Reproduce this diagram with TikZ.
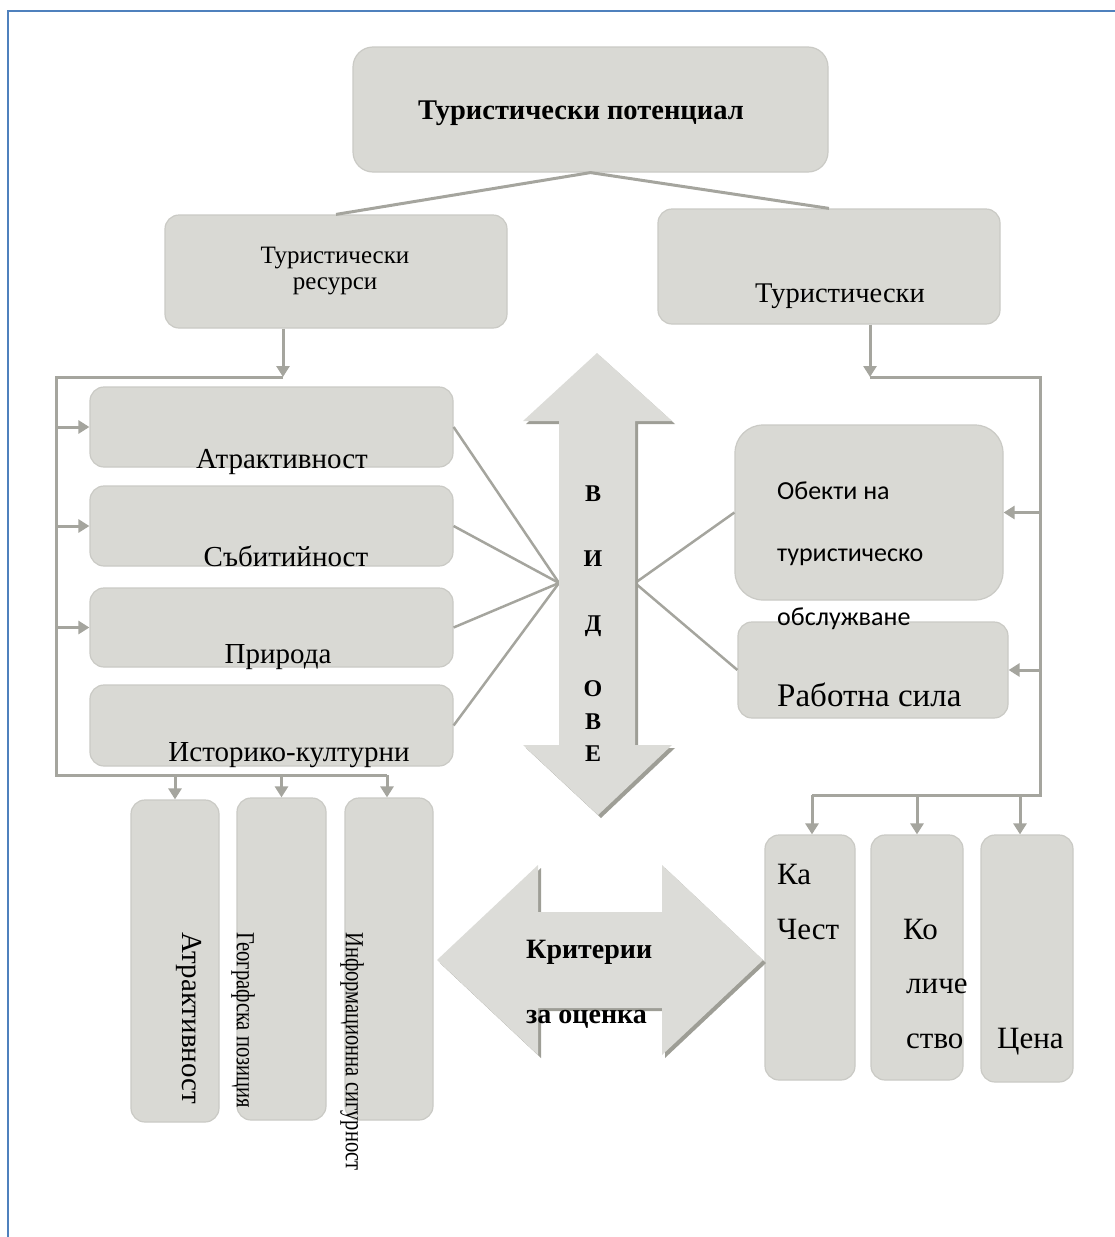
\documentclass[tikz,border=0pt]{standalone}
\usepackage{fontspec}
\usepackage{graphicx}
\setmainfont{Liberation Serif}
\newfontfamily\sansf{Carlito}
\usetikzlibrary{arrows.meta,calc}
\definecolor{boxfill}{HTML}{D9D9D4}
\definecolor{boxline}{HTML}{CACAC5}
\definecolor{conncol}{HTML}{A5A59E}
\definecolor{shadowcol}{HTML}{9E9E96}
\definecolor{arrowfill}{HTML}{DCDCD8}
\definecolor{framecol}{HTML}{4F81BD}
\newcommand\fs[1]{\fontsize{#1}{#1}\selectfont}
\begin{document}
\begin{tikzpicture}[x=1pt,y=-1pt,
  box/.style={draw=boxline, fill=boxfill, line width=1.2, rounded corners=14, inner sep=0},
  conn/.style={draw=conncol, line width=3},
  thinconn/.style={draw=conncol, line width=2.5},
  arr/.style={conn, -{Triangle[length=11,width=13]}},
  txt/.style={inner sep=0, text=black},
  vpath/.style={insert path={(597,353) -- (672,421) -- (635,421) -- (635,745) -- (672,745) -- (598,815) -- (523,745) -- (559,745) -- (559,421) -- (523,421) -- cycle}},
  hpath/.style={insert path={(437,960) -- (538,865) -- (538,912) -- (662,912) -- (662,865) -- (763,960) -- (662,1055) -- (662,1008) -- (538,1008) -- (538,1055) -- cycle}},
]
\useasboundingbox (0,0) rectangle (1115,1237);
% frame
\draw[framecol, line width=2.5] (8,1237) -- (8,11) -- (1115,11);

% boxes
\node[box, rounded corners=20, minimum width=475, minimum height=125] (pot) at (590.5,109.5) {};
\node[box, minimum width=342, minimum height=113] (res) at (336,271.5) {};
\node[box, minimum width=342, minimum height=115] (tur) at (829,266.5) {};
\node[box, minimum width=363, minimum height=80] (a1) at (271.5,427) {};
\node[box, minimum width=363, minimum height=80] (a2) at (271.5,526) {};
\node[box, minimum width=363, minimum height=79] (a3) at (271.5,627.5) {};
\node[box, minimum width=363, minimum height=81] (a4) at (271.5,725.5) {};
\node[box, rounded corners=28, minimum width=268, minimum height=175] (ob) at (869,512.5) {};
\node[box, minimum width=270, minimum height=96] (rs) at (873,670) {};
\node[box, minimum width=88, minimum height=322] (v1) at (175,961) {};
\node[box, minimum width=89, minimum height=322] (v2) at (281.5,959) {};
\node[box, minimum width=88, minimum height=322] (v3) at (389,959) {};
\node[box, minimum width=90, minimum height=245] (q1) at (810,957.5) {};
\node[box, minimum width=92, minimum height=245] (q2) at (917,957.5) {};
\node[box, minimum width=92, minimum height=247] (q3) at (1027,958.5) {};

% connectors top
\draw[conn] (res.north) -- (pot.south) -- (tur.north);

% left tree
\coordinate (lt) at (283,377);
\coordinate (ll) at (56,377);
\coordinate (lb) at (56,775);
\coordinate (lbr) at (387,775);
\draw[arr] (res.south -| lt) -- (lt);
\draw[conn] (lt) -- (ll) -- (lb) -- (lbr);
\draw[arr] (ll |- a1.west) -- (a1.west);
\draw[arr] (ll |- a2.west) -- (a2.west);
\draw[arr] (ll |- a3.west) -- (a3.west);
\draw[arr] (lb -| v1.north) -- (v1.north);
\draw[arr] (lb -| v2.north) -- (v2.north);
\draw[arr] (lbr) -- (lbr |- v3.north);

% right tree
\coordinate (rt) at (870,377);
\coordinate (rr) at (1040,377);
\coordinate (rb) at (1040,795);
\coordinate (rbl) at (812,795);
\draw[arr] (tur.south -| rt) -- (rt);
\draw[conn] (rt) -- (rr) -- (rb) -- (rbl);
\draw[arr] (rr |- ob.east) -- (ob.east);
\draw[arr] (rr |- rs.east) -- (rs.east);
\draw[arr] (rbl) -- (rbl |- q1.north);
\draw[arr] (rb -| q2.north) -- (q2.north);
\coordinate (q3t) at ($(q3.north)+(-7,0)$);
\draw[arr] (rb -| q3t) -- (q3t);

% hubs
\coordinate (hubL) at (559,583);
\coordinate (hubR) at (635,583);
\draw[thinconn] (a1.east) -- (hubL);
\draw[thinconn] (a2.east) -- (hubL);
\draw[thinconn] (a3.east) -- (hubL);
\draw[thinconn] (a4.east) -- (hubL);
\draw[thinconn] (ob.west) -- (hubR) -- (rs.west);

% double arrows
\begin{scope}[shift={(3,3)}]
\path[fill=shadowcol, vpath];
\path[fill=shadowcol, hpath];
\end{scope}
\path[fill=arrowfill, vpath];
\path[fill=arrowfill, hpath];

% texts
\node[txt, anchor=base] (tpot) at (581,119) {\fs{28.5}\bfseries Туристически потенциал};
\node[txt, anchor=base] (tres1) at (335,263) {\fs{25}Туристически};
\node[txt, anchor=base] (tres2) at (335,289) {\fs{25}ресурси};
\node[txt, anchor=base] (ttur) at (840,302) {\fs{28.5}Туристически};

\node[txt, anchor=base] (ta1) at (282,468) {\fs{29}Атрактивност};
\node[txt, anchor=base] (ta2) at (286,566) {\fs{29}Събитийност};
\node[txt, anchor=base] (ta3) at (278,663) {\fs{29}Природа};
\node[txt, anchor=base] (ta4) at (289,761) {\fs{29}Историко-културни};

\foreach \l/\y [count=\i] in {В/501, И/566, Д/631, О/696, В/729, Е/761}
  \node[txt, anchor=base, font=\fs{24}\bfseries] (vid\i) at (593,\y) {\l};

\node[txt, anchor=base west] (ob1) at (777,499) {\sansf\fs{26}Обекти на};
\node[txt, anchor=base west] (ob2) at (777,561) {\sansf\fs{26}туристическо};
\node[txt, anchor=base west] (ob3) at (777,625) {\sansf\fs{26}обслужване};
\node[txt, anchor=base west] (trs) at (777,706) {\fs{33}Работна сила};

\node[txt, anchor=base west] (kr1) at (526,958) {\fs{28}\bfseries Критерии};
\node[txt, anchor=base west] (kr2) at (526,1023) {\fs{28}\bfseries за оценка};

\node[txt, anchor=base west] (q1a) at (777,884) {\fs{31}Ка};
\node[txt, anchor=base west] (q1b) at (777,939) {\fs{31}Чест};
\node[txt, anchor=base west] (q2a) at (903,939) {\fs{31}Ко};
\node[txt, anchor=base west] (q2b) at (906,993) {\fs{31}личе};
\node[txt, anchor=base west] (q2c) at (906,1048) {\fs{31}ство};
\node[txt, anchor=base west] (q3a) at (997,1048) {\fs{31}Цена};

\node[txt, rotate=-90, anchor=west] (tv1) at (189,932) {\fs{29}Атрактивност};
\node[txt, rotate=-90, anchor=west] (tv2) at (243,932) {\scalebox{0.79}[1]{\fs{26}Географска позиция}};
\node[txt, rotate=-90, anchor=west] (tv3) at (352,932) {\scalebox{0.79}[1]{\fs{26}Информационна сигурност}};
\end{tikzpicture}
\end{document}
